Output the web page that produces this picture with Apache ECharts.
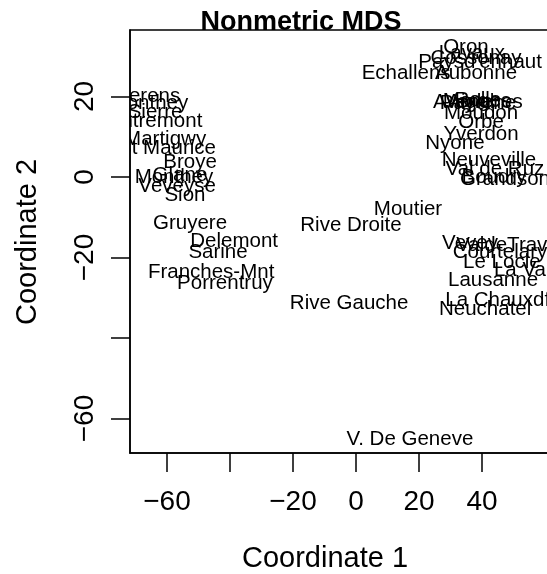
<!DOCTYPE html>
<html><head><meta charset="utf-8">
<script src="https://cdn.jsdelivr.net/npm/echarts@6/dist/echarts.min.js"></script>
<style>html,body{margin:0;padding:0;background:#fff}#c{width:547px;height:574px}</style>
</head><body><div id="c"></div>
<script>
const names = ["Courtelary","Delemont","Franches-Mnt","Moutier","Neuveville","Porrentruy","Broye","Glane","Gruyere","Sarine","Veveyse","Aigle","Aubonne","Avenches","Cossonay","Echallens","Grandson","Lausanne","La Vallee","Lavaux","Morges","Moudon","Nyone","Orbe","Oron","Payerne","Paysd'enhaut","Rolle","Vevey","Yverdon","Conthey","Entremont","Herens","Martigwy","Monthey","St Maurice","Sierre","Sion","Boudry","La Chauxdfnd","Le Locle","Neuchatel","Val de Ruz","ValdeTravers","V. De Geneve","Rive Droite","Rive Gauche"];
const coord1 = [45.7,-38.7,-46.0,16.5,42.2,-41.6,-52.7,-55.9,-52.7,-43.8,-56.8,36.2,38.1,38.7,38.1,15.9,47.3,43.5,57.1,36.8,38.4,39.7,31.4,39.7,34.9,38.7,39.4,38.7,36.2,39.7,-65.4,-63.8,-66.3,-60.6,-57.8,-60.0,-63.8,-54.3,43.8,48.6,46.3,41.0,44.1,50.8,17.1,-1.6,-2.2];
const coord2 = [-18.6,-16.1,-23.6,-8.0,4.2,-26.3,3.7,0.3,-11.4,-18.6,-2.2,18.6,25.8,18.6,29.6,25.8,-0.7,-25.6,-23.1,30.6,18.9,15.9,8.4,13.7,32.3,18.4,28.6,19.1,-16.6,10.7,18.4,13.9,20.1,9.4,-0.2,7.0,16.1,-4.5,0.0,-30.6,-21.1,-33.0,2.0,-16.9,-65.1,-11.9,-31.3];
const xTicks = [-60,-40,-20,0,20,40];
const xTickLabels = [-60,-20,0,20,40];
const yTicks = [-60,-40,-20,0,20];
const yTickLabels = [-60,-20,0,20];

const FONT = '"Liberation Sans", Arial, Helvetica, sans-serif';
const data = names.map((n,i)=>[coord1[i], coord2[i], n]);
const fmt = v => String(v).replace('-', '\u2212');

const chart = echarts.init(document.getElementById('c'));
chart.setOption({
  animation: false,
  backgroundColor: '#fff',
  grid: {left:130, top:30, width:600, height:423, outerBoundsMode:'none', containLabel:false, show:true, borderColor:'#000', borderWidth:1.5, backgroundColor:'transparent'},
  xAxis: {
    type:'value', min:-71.75, max:118.73,
    splitLine:{show:false},
    axisLine:{show:true, onZero:false, lineStyle:{color:'#000', width:1.5}},
    axisTick:{show:true, length:19, customValues:xTicks, lineStyle:{color:'#000', width:1.5}},
    axisLabel:{show:true, customValues:xTickLabels, margin:35, color:'#000', fontSize:28, fontFamily:FONT, formatter:fmt}
  },
  yAxis: {
    type:'value', min:-68.57, max:36.52,
    splitLine:{show:false},
    axisLine:{show:true, onZero:false, lineStyle:{color:'#000', width:1.5}},
    axisTick:{show:true, length:19, customValues:yTicks, lineStyle:{color:'#000', width:1.5}},
    axisLabel:{show:true, customValues:yTickLabels, rotate:90, margin:31, color:'#000', fontSize:28, fontFamily:FONT, formatter:fmt}
  },
  series: [{
    type:'custom',
    clip:true,
    data:data,
    encode:{x:0, y:1},
    renderItem:(params, api)=>{
      const p = api.coord([api.value(0), api.value(1)]);
      return {type:'text', x:p[0], y:p[1], style:{text:names[params.dataIndex], align:'center', verticalAlign:'middle', textAlign:'center', textVerticalAlign:'middle', fill:'#000', font:'20.5px '+FONT}};
    }
  }],
  graphic: [
    {type:'text', x:301, y:23, z:100, style:{text:'Nonmetric MDS', align:'center', verticalAlign:'middle', textAlign:'center', textVerticalAlign:'middle', fill:'#000', font:'bold 27px '+FONT}},
    {type:'text', x:325, y:559, style:{text:'Coordinate 1', align:'center', verticalAlign:'middle', textAlign:'center', textVerticalAlign:'middle', fill:'#000', font:'29px '+FONT}},
    {type:'text', x:28, y:242, rotation:Math.PI/2, style:{text:'Coordinate 2', align:'center', verticalAlign:'middle', textAlign:'center', textVerticalAlign:'middle', fill:'#000', font:'29px '+FONT}}
  ]
});
</script></body></html>
